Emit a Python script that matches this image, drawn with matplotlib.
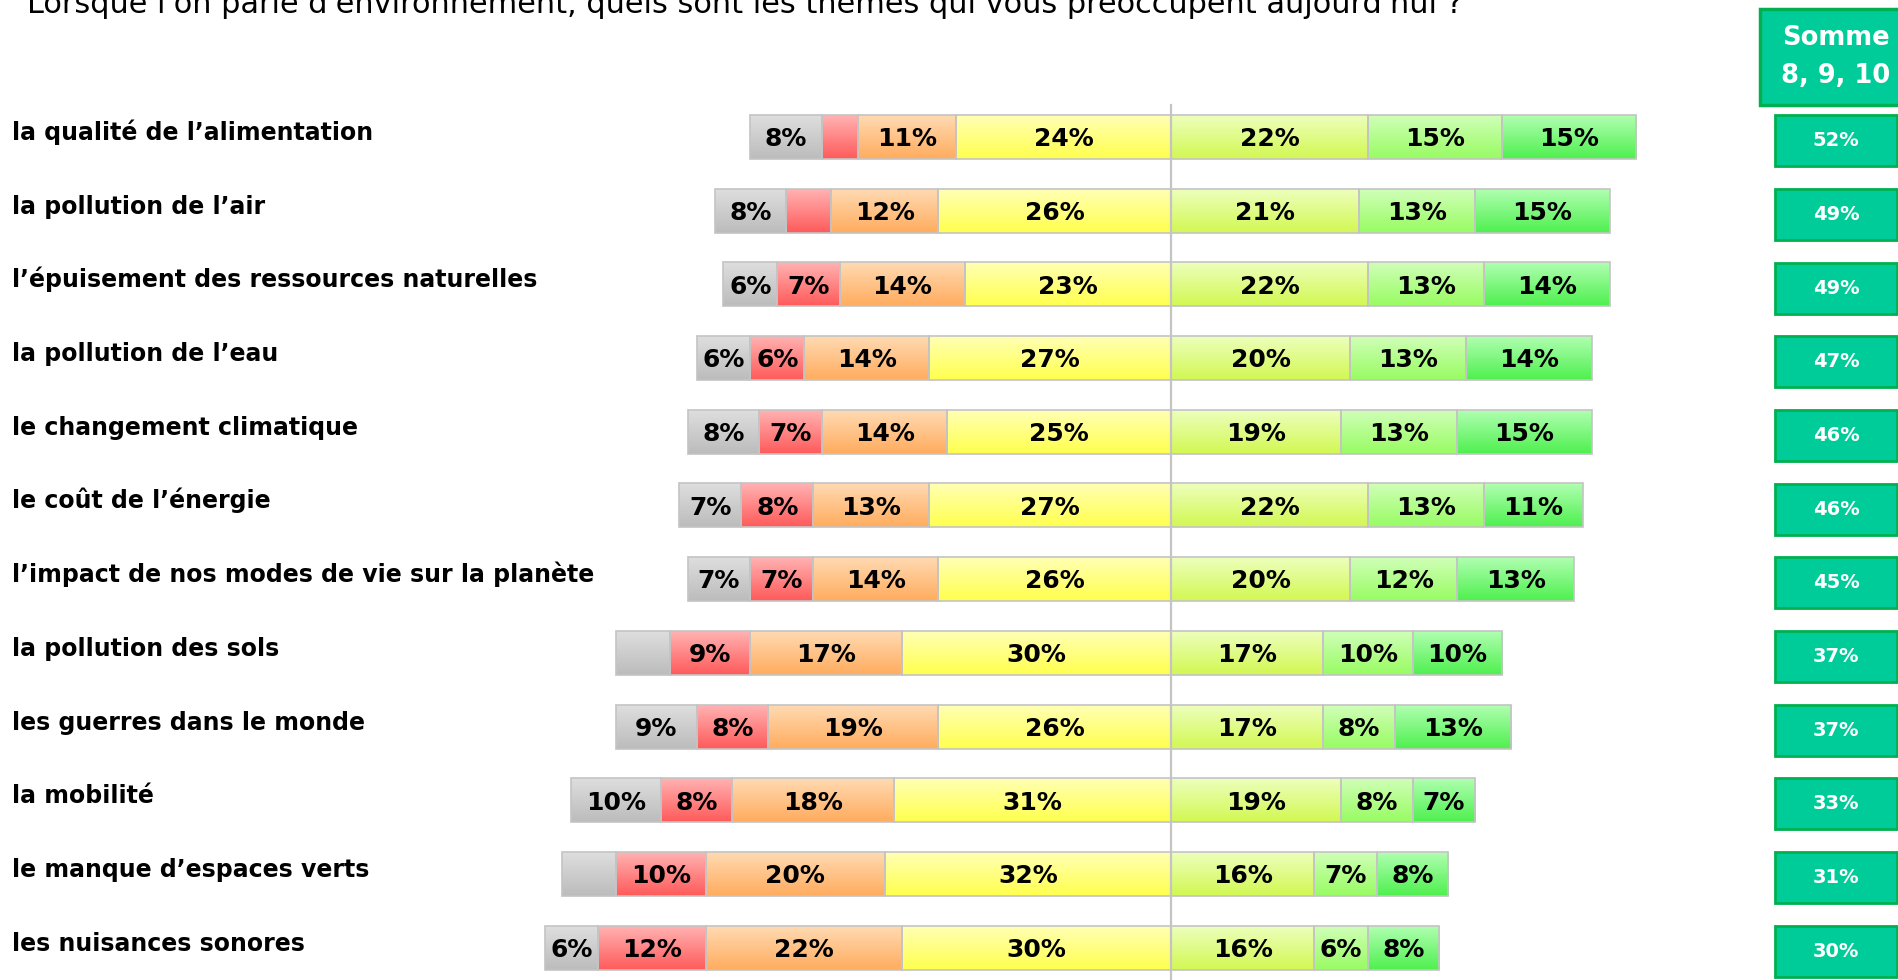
import matplotlib.pyplot as plt
import numpy as np
from matplotlib.colors import LinearSegmentedColormap
from matplotlib.patches import Rectangle
from matplotlib.transforms import blended_transform_factory

themes = [
    "la qualité de l’alimentation",
    "la pollution de l’air",
    "l’épuisement des ressources naturelles",
    "la pollution de l’eau",
    "le changement climatique",
    "le coût de l’énergie",
    "l’impact de nos modes de vie sur la planète",
    "la pollution des sols",
    "les guerres dans le monde",
    "la mobilité",
    "le manque d’espaces verts",
    "les nuisances sonores",
]

# left side (drawn leftwards from the centre line): NSP, low, mid-low, mid
nsp = [8, 8, 6, 6, 8, 7, 7, 6, 9, 10, 6, 6]
low = [4, 5, 7, 6, 7, 8, 7, 9, 8, 8, 10, 12]
midlow = [11, 12, 14, 14, 14, 13, 14, 17, 19, 18, 20, 22]
mid = [24, 26, 23, 27, 25, 27, 26, 30, 26, 31, 32, 30]
# right side: notes 8, 9, 10
note8 = [22, 21, 22, 20, 19, 22, 20, 17, 17, 19, 16, 16]
note9 = [15, 13, 13, 13, 13, 13, 12, 10, 8, 8, 7, 6]
note10 = [15, 15, 14, 14, 15, 11, 13, 10, 13, 7, 8, 8]
somme = [52, 49, 49, 47, 46, 46, 45, 37, 37, 33, 31, 30]

# segments whose value is not printed in the original
hidden = {(0, 1), (1, 1), (7, 0), (10, 0)}

grad = {
    "nsp": ("#dedede", "#bcbcbc"),
    "low": ("#ffb2b2", "#ff5a5a"),
    "midlow": ("#ffdab2", "#ffac5e"),
    "mid": ("#ffffb4", "#ffff4e"),
    "n8": ("#edffbc", "#d2f852"),
    "n9": ("#d0ffb8", "#98fc62"),
    "n10": ("#b0ffb0", "#4ff04f"),
}

W, H = 1899, 980
fig = plt.figure(figsize=(W / 100, H / 100), dpi=100)
ax = fig.add_axes([0, 0, 1, 1])
ax.axis("off")

px_per = 8.95
x0_px = 1171
row0_px, row_step = 137, 73.7
bar_h = 44 / row_step

def bar(x_left, width, y, key, val, show):
    c1, c2 = grad[key]
    cm = LinearSegmentedColormap.from_list(key, [c1, c2])
    g = np.linspace(0, 1, 64).reshape(-1, 1)
    ax.imshow(g, cmap=cm, extent=[x_left, x_left + width, y + bar_h / 2, y - bar_h / 2],
              aspect="auto", interpolation="bilinear", zorder=2)
    ax.add_patch(Rectangle((x_left, y - bar_h / 2), width, bar_h, fill=False,
                           edgecolor="#c4c4c4", lw=1.2, zorder=3))
    if show:
        ax.text(x_left + width / 2, y + 0.03, f"{val}%", ha="center", va="center",
                fontsize=18, fontweight="bold", color="black", zorder=4)

for i in range(len(themes)):
    y = i
    # left side, from centre outwards
    x = 0
    for j, (key, vals) in enumerate([("mid", mid), ("midlow", midlow), ("low", low), ("nsp", nsp)]):
        v = vals[i]
        seg_idx = 3 - j
        x -= v
        bar(x, v, y, key, v, (i, seg_idx) not in hidden)
    x = 0
    for key, vals in [("n8", note8), ("n9", note9), ("n10", note10)]:
        v = vals[i]
        bar(x, v, y, key, v, True)
        x += v

# centre line
ax.plot([0, 0], [-(row0_px - 105) / row_step, (H - row0_px) / row_step], color="#c4c4c4", lw=1.6, zorder=5)

ax.set_xlim(-x0_px / px_per, (W - x0_px) / px_per)
ax.set_ylim((H - row0_px) / row_step, -row0_px / row_step)

# theme labels
tr = blended_transform_factory(ax.transAxes, ax.transData)
for i, t in enumerate(themes):
    ax.text(12 / W, i + 0.04, t, transform=tr, ha="left", va="baseline",
            fontsize=17, fontweight="bold", color="black")

# somme boxes
for i, s in enumerate(somme):
    bh = 51 / row_step
    yc = i + 0.05
    ax.add_patch(Rectangle((1775 / W, yc - bh / 2), 122 / W, bh, transform=tr,
                           facecolor="#00cc99", edgecolor="#00b050", lw=2, zorder=3))
    ax.text(1836 / W, yc, f"{s}%", transform=tr, ha="center", va="center",
            fontsize=14, fontweight="bold", color="white", zorder=4)

# header box
fig.patches.append(Rectangle((1760 / W, 1 - 105 / H), 160 / W, 96 / H, transform=fig.transFigure,
                             facecolor="#00cc99", edgecolor="#00b050", lw=2.5))
fig.text(1836 / W, 1 - 38 / H, "Somme", ha="center", va="center", fontsize=18.5,
         fontweight="bold", color="white")
fig.text(1836 / W, 1 - 76 / H, "8, 9, 10", ha="center", va="center", fontsize=18.5,
         fontweight="bold", color="white")

# title (cut at top in the original)
fig.text(27 / W, 1 - 13 / H, "Lorsque l'on parle d'environnement, quels sont les thèmes qui vous préoccupent aujourd'hui ?",
         ha="left", va="baseline", fontsize=21.9, color="black")

fig.savefig("out.png", dpi=100, facecolor="white")
